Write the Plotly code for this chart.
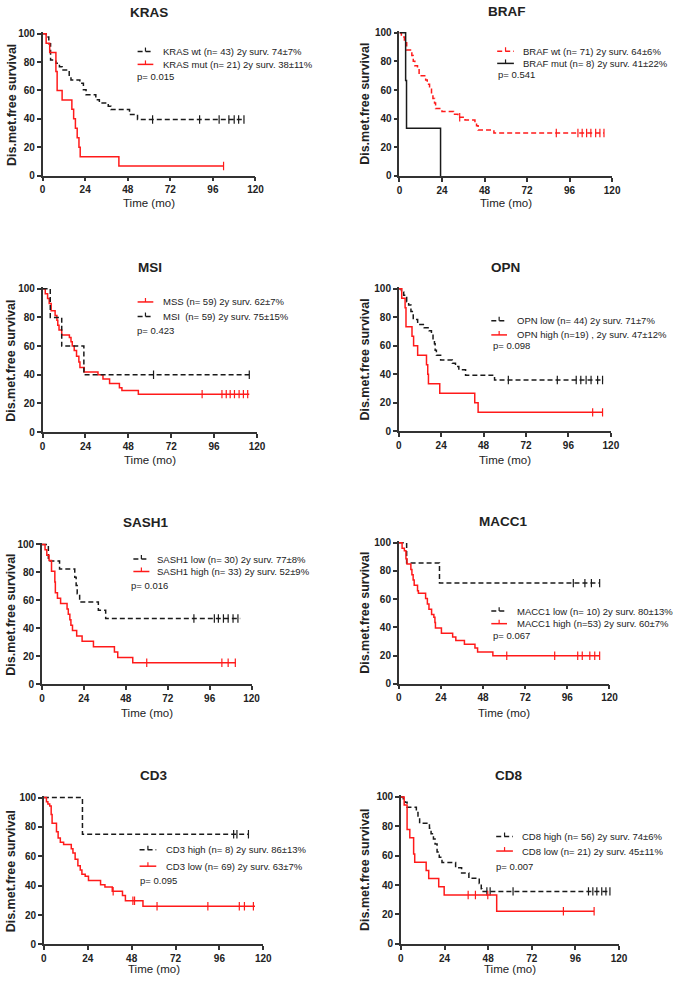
import numpy as np
import plotly.graph_objects as go

# ---------------- DATA ----------------
# Kaplan-Meier steps: time of event (months) and survival (%) after that event;
# the last pair is the end of follow-up. *_c = censored times (ticks).
kras_wt_t = [0, 2, 3.5, 4.5, 7.5, 9.5, 11, 15, 16, 21, 23, 24.5, 30, 32, 37, 38.5, 49, 53.5, 114]
kras_wt_s = [100, 97.7, 93.0, 81.4, 79.1, 76.7, 74.4, 69.8, 67.4, 65.1, 60.5, 57.0, 53.5, 51.2, 48.8, 46.5, 43.0, 39.5, 39.5]
kras_wt_c = [62, 88.5, 99.5, 105, 108, 110.5, 113.5]
kras_mut_t = [0, 2, 4, 7.5, 8.2, 11, 16.5, 17.5, 18.5, 19.5, 20.5, 21.2, 43, 102]
kras_mut_s = [100, 93.3, 86.7, 73.3, 60, 53.3, 46.7, 40, 33.3, 26.7, 20, 13.3, 6.7, 6.7]
kras_mut_c = [102]

braf_wt_t = [0, 1.1, 2.8, 4.1, 7, 7.8, 8.7, 10.2, 11.1, 14.8, 15.7, 17, 18.1, 18.9, 19.8, 20.4, 24, 30.5, 33, 37, 42.6, 43.5, 44.4, 53.3, 115.4]
braf_wt_s = [100, 97, 93, 88, 84, 80, 77, 75, 70, 67, 64, 61, 58, 54, 51, 47, 45, 43, 41, 39, 37, 35, 32, 30, 30]
braf_wt_c = [34, 88.5, 100.7, 103.1, 105.6, 108, 110.7, 113.1, 115.4]
braf_mut_t = [0, 3.5, 4.0, 23.2]
braf_mut_s = [100, 66.7, 33.3, 0]
braf_mut_c = []

mss_t = [0, 1.5, 2.8, 3.7, 4.8, 7, 8, 8.5, 9.2, 10.7, 15, 15.9, 16.6, 17.7, 19, 20.3, 20.9, 23.3, 31, 33.8, 37.5, 43, 44.4, 53.6, 115.7]
mss_s = [100, 96.6, 93.2, 89.8, 84.7, 81.4, 78, 74.6, 71.2, 67.8, 66, 63, 60, 57, 53, 49, 45, 42, 40, 37, 34, 31, 29, 26.5, 26.5]
mss_c = [89.3, 100.4, 102.8, 105, 107.4, 110, 112.4, 114.8]
msi_t = [0, 4.3, 10.7, 23.1, 115.7]
msi_s = [100, 80, 60, 40, 40]
msi_c = [62.1, 115.7]

opn_low_t = [0, 1.5, 2.8, 4.5, 5.6, 6.9, 8.2, 10.7, 14.4, 17.2, 18.5, 19.4, 20.2, 20.6, 21.3, 23.7, 30.3, 32.1, 34, 37.8, 54.2, 115.9]
opn_low_s = [100, 97.7, 95.5, 90.9, 88.6, 84.1, 78.4, 75, 72.7, 70.5, 68.2, 63.6, 61.4, 56.8, 53.4, 50, 47.7, 45.5, 43.2, 39.4, 36, 36]
opn_low_c = [62, 89.7, 100.4, 103, 106, 108.8, 112.5, 115.3]
opn_high_t = [0, 1.7, 3.6, 4.1, 7.5, 8.4, 10.7, 15.7, 16.4, 16.8, 23.2, 43, 44.9, 115.3]
opn_high_s = [100, 93.3, 86.7, 73.3, 66.7, 60, 53.3, 46.7, 40, 33.3, 26.7, 20, 13.3, 13.3]
opn_high_c = [109.7, 115.3]

sash_low_t = [0, 3.7, 10.1, 18.8, 19.6, 20.2, 21.6, 32.3, 36.5, 113.5]
sash_low_s = [100, 88.2, 82.4, 76.5, 70.6, 64.7, 58.8, 52.9, 47.0, 47.0]
sash_low_c = [87, 98.7, 101, 103.9, 106.6, 109.4, 112.2]
sash_high_t = [0, 1.8, 2.8, 4.1, 5.5, 7.4, 7.7, 8.9, 10.7, 14.4, 15.1, 16, 16.6, 17.5, 19.9, 23, 29.5, 41.5, 43.4, 52, 111]
sash_high_s = [100, 96.2, 92.3, 88.5, 80.8, 73.1, 65.4, 61.5, 57.7, 53.8, 50, 46.2, 42.3, 38.5, 34.6, 30.8, 26.9, 23.1, 19.2, 15.4, 15.4]
sash_high_c = [60, 103, 106.6, 110.7]

macc_low_t = [0, 4.5, 23.2, 114.4]
macc_low_s = [100, 85.7, 71.4, 71.4]
macc_low_c = [99.4, 106, 109.7, 114.4]
macc_high_t = [0, 1.9, 3.2, 4.1, 4.7, 6.9, 7.5, 8.2, 8.8, 10.7, 11.2, 15.3, 16.3, 17.2, 18.7, 20, 20.6, 20.9, 24.3, 30.7, 32.5, 37.4, 43.4, 44.9, 53.6, 114.4]
macc_high_s = [100, 96.2, 94.3, 88.7, 84.9, 81.1, 77.4, 73.6, 69.8, 66, 64.2, 60.4, 56.6, 52.8, 49.1, 47.2, 43.4, 39.6, 35.8, 33.2, 30.6, 28, 25.3, 22.6, 19.9, 19.9]
macc_high_c = [61.5, 88.8, 101.9, 104.5, 108.8, 111.6, 114.4]

cd3_high_t = [0, 21.1, 111.9]
cd3_high_s = [100, 75, 75]
cd3_high_c = [103.8, 105.6, 111.9]
cd3_low_t = [0, 1.4, 2.2, 3.2, 4, 4.5, 6.9, 7.8, 9, 10.8, 15, 15.9, 17.1, 18.6, 19.9, 20.8, 22.6, 24.4, 31, 33.4, 37.4, 43, 44.6, 54.2, 115.5]
cd3_low_s = [100, 97.1, 95.7, 94.2, 88.4, 82.6, 76.8, 72.5, 69.6, 68.1, 65.2, 62.3, 58, 53.6, 50.7, 47.8, 46.4, 43.5, 40.6, 39.1, 36.2, 33.3, 29.7, 26, 26]
cd3_low_c = [37.9, 48.7, 49.6, 61.9, 89.7, 106.9, 109.7, 114.6]

cd8_high_t = [0, 1.3, 2.2, 3.4, 8.5, 9.4, 10.3, 15.7, 16.6, 17.9, 18.8, 19.9, 21.1, 22.6, 30.1, 33.4, 37.4, 43.1, 44.2, 44.6, 115]
cd8_high_s = [100, 98.2, 96.4, 92.9, 89.3, 85.7, 82.1, 78.6, 75, 71.4, 67.9, 62.5, 58.9, 55.4, 51.8, 48.2, 44.6, 41.1, 37.5, 35.7, 35.7]
cd8_high_c = [47.3, 49.1, 61.7, 103.2, 105.6, 107.8, 110.5, 112.8, 115]
cd8_low_t = [0, 1.8, 3.4, 4.9, 7, 7.6, 13.9, 15.3, 20.8, 23.8, 52.7, 106.3]
cd8_low_s = [100, 94.4, 77.8, 72.2, 61.1, 55.6, 50, 44.4, 38.9, 33.3, 22.2, 22.2]
cd8_low_c = [37, 41, 47.8, 89.4, 106.3]

titles = ["KRAS", "BRAF", "MSI", "OPN", "SASH1", "MACC1", "CD3", "CD8"]
legend_texts = [
    ["KRAS wt (n= 43) 2y surv. 74±7%", "KRAS mut (n= 21) 2y surv. 38±11%"],
    ["BRAF wt (n= 71) 2y surv. 64±6%", "BRAF mut (n= 8) 2y surv. 41±22%"],
    ["MSS (n= 59) 2y surv. 62±7%", "MSI  (n= 59) 2y surv. 75±15%"],
    ["OPN low (n= 44) 2y surv. 71±7%", "OPN high (n=19) , 2y surv. 47±12%"],
    ["SASH1 low (n= 30) 2y surv. 77±8%", "SASH1 high (n= 33) 2y surv. 52±9%"],
    ["MACC1 low (n= 10) 2y surv. 80±13%", "MACC1 high (n=53) 2y surv. 60±7%"],
    ["CD3 high (n= 8) 2y surv. 86±13%", "CD3 low (n= 69) 2y surv. 63±7%"],
    ["CD8 high (n= 56) 2y surv. 74±6%", "CD8 low (n= 21) 2y surv. 45±11%"],
]
p_values = ["p= 0.015", "p= 0.541", "p= 0.423", "p= 0.098", "p= 0.016", "p= 0.067", "p= 0.095", "p= 0.007"]
x_ticks = [0, 24, 48, 72, 96, 120]
y_ticks = [0, 20, 40, 60, 80, 100]

# ---------------- STYLE / LAYOUT ----------------
W, H = 685, 988
FONT = "Liberation Sans, Arial, sans-serif"
RED = "#ff1a1a"
BLK = "#1a1a1a"
AX = "#333333"
TXT = "#222222"
DASH = "5px,3px"

RS = dict(color=RED, dash="solid")   # red solid
RD = dict(color=RED, dash=DASH)      # red dashed
KS = dict(color=BLK, dash="solid")   # black solid
KD = dict(color=BLK, dash=DASH)      # black dashed

panels = [
    dict(series=[(kras_wt_t, kras_wt_s, kras_wt_c, KD), (kras_mut_t, kras_mut_s, kras_mut_c, RS)],
         box=(40.3, 257.0, 30.0, 173.3), title=(149, 9), leg=(137, 153, 48, 61, 162, 135, 73), ylab=8.5, tlab=201),
    dict(series=[(braf_wt_t, braf_wt_s, braf_wt_c, RD), (braf_mut_t, braf_mut_s, braf_mut_c, KS)],
         box=(403.5, 620.0, 29.0, 173.7), title=(513, 8), leg=(503, 520, 47.7, 60, 528, 502.7, 71), ylab=369, tlab=201),
    dict(series=[(mss_t, mss_s, mss_c, RS), (msi_t, msi_s, msi_c, KD)],
         box=(40.3, 258.5, 287.7, 432.5), title=(150, 266), leg=(137, 153, 301, 315.7, 161.7, 135, 330), ylab=8.5, tlab=461),
    dict(series=[(opn_low_t, opn_low_s, opn_low_c, KD), (opn_high_t, opn_high_s, opn_high_c, RS)],
         box=(402.8, 618.7, 287.7, 431.7), title=(511, 266), leg=(497, 513, 320, 334.3, 521.7, 497.7, 345), ylab=369, tlab=461),
    dict(series=[(sash_low_t, sash_low_s, sash_low_c, KD), (sash_high_t, sash_high_s, sash_high_c, RS)],
         box=(39.6, 253.0, 546.0, 687.2), title=(146, 524), leg=(132.7, 149, 560.7, 573.3, 156, 129.3, 587.7), ylab=8.5, tlab=716),
    dict(series=[(macc_low_t, macc_low_s, macc_low_c, KD), (macc_high_t, macc_high_s, macc_high_c, RS)],
         box=(402.8, 617.3, 544.3, 686.7), title=(509, 523), leg=(497, 513, 613.3, 626, 521.7, 497.3, 638.3), ylab=369, tlab=716),
    dict(series=[(cd3_high_t, cd3_high_s, cd3_high_c, KD), (cd3_low_t, cd3_low_s, cd3_low_c, RS)],
         box=(41.6, 264.9, 801.7, 950.0), title=(153, 779), leg=(139, 156, 854.3, 871, 165, 138.3, 885.7), ylab=8.5, tlab=975),
    dict(series=[(cd8_high_t, cd8_high_s, cd8_high_c, KD), (cd8_low_t, cd8_low_s, cd8_low_c, RS)],
         box=(405.0, 627.0, 801.0, 949.5), title=(515, 779), leg=(502, 519, 841, 855.7, 527.3, 501, 871), ylab=369, tlab=975),
]


def px(x):
    return x / W


def py(y):
    return 1 - y / H


def step_value(t, s, c):
    t = np.asarray(t, float)
    s = np.asarray(s, float)
    idx = np.searchsorted(t, np.asarray(c, float), side="right") - 1
    return s[np.clip(idx, 0, len(s) - 1)]


fig = go.Figure()
layout = dict(width=W, height=H, margin=dict(l=0, r=0, t=0, b=0),
              paper_bgcolor="white", plot_bgcolor="white", showlegend=False,
              font=dict(family=FONT, color=TXT))
annotations = []
shapes = []

for i, p in enumerate(panels):
    k = "" if i == 0 else str(i + 1)
    x0, x1, y100, y0 = p["box"]
    top = y100 - (y0 - y100) / 100.0
    axis_common = dict(ticks="outside", ticklen=4, tickwidth=1.5, tickcolor=AX,
                       showline=True, linewidth=1.5, linecolor=AX, showgrid=False,
                       zeroline=False, fixedrange=True,
                       tickfont=dict(family=FONT, size=10, color=TXT, weight="bold"))
    layout["xaxis" + k] = dict(domain=[px(x0), px(x1)], range=[0, 120], anchor="y" + k,
                               tickvals=x_ticks, ticktext=[str(v) for v in x_ticks], **axis_common)
    layout["yaxis" + k] = dict(domain=[py(y0), py(top)], range=[0, 101], anchor="x" + k,
                               tickvals=y_ticks, ticktext=[str(v) for v in y_ticks], **axis_common)

    for (t, s, c, st) in p["series"]:
        fig.add_trace(go.Scatter(x=t, y=s, mode="lines", xaxis="x" + k, yaxis="y" + k,
                                 line=dict(shape="hv", width=1.5, color=st["color"], dash=st["dash"]),
                                 hoverinfo="skip"))
        if len(c):
            fig.add_trace(go.Scatter(x=c, y=step_value(t, s, c), mode="markers",
                                     xaxis="x" + k, yaxis="y" + k,
                                     marker=dict(symbol="line-ns-open", size=6, color=st["color"],
                                                 line=dict(width=1.2, color=st["color"])),
                                     hoverinfo="skip"))

    # title
    tx, ty = p["title"]
    annotations.append(dict(x=px(tx), y=py(ty), xref="paper", yref="paper", text="<b>%s</b>" % titles[i],
                            showarrow=False, xanchor="center", yanchor="middle", borderpad=0,
                            font=dict(family=FONT, size=13.5, color=TXT)))
    # y axis title
    annotations.append(dict(x=px(p["ylab"]), y=py((y100 + y0) / 2), xref="paper", yref="paper",
                            text="<b>Dis.met.free survival</b>", textangle=-90, showarrow=False,
                            xanchor="center", yanchor="middle", borderpad=0,
                            font=dict(family=FONT, size=12.5, color=TXT)))
    # x axis title
    annotations.append(dict(x=px((x0 + x1) / 2), y=py(p["tlab"]), xref="paper", yref="paper",
                            text="Time (mo)", showarrow=False, xanchor="center", yanchor="middle",
                            borderpad=0, font=dict(family=FONT, size=11.5, color=TXT)))
    # legend
    sx0, sx1, ry1, ry2, txx, ppx, ppy = p["leg"]
    for (t, s, c, st), label, ry in zip(p["series"], legend_texts[i], (ry1, ry2)):
        shapes.append(dict(type="line", xref="paper", yref="paper", x0=px(sx0), x1=px(sx1),
                           y0=py(ry), y1=py(ry), line=dict(color=st["color"], width=1.5, dash=st["dash"])))
        mid = (sx0 + sx1) / 2
        shapes.append(dict(type="line", xref="paper", yref="paper", x0=px(mid), x1=px(mid),
                           y0=py(ry), y1=py(ry - 4), line=dict(color=st["color"], width=1.2)))
        annotations.append(dict(x=px(txx), y=py(ry), xref="paper", yref="paper", text=label,
                                showarrow=False, xanchor="left", yanchor="middle", borderpad=0,
                                font=dict(family=FONT, size=9.5, color=TXT)))
    annotations.append(dict(x=px(ppx), y=py(ppy), xref="paper", yref="paper", text=p_values[i],
                            showarrow=False, xanchor="left", yanchor="middle", borderpad=0,
                            font=dict(family=FONT, size=9.5, color=TXT)))

layout["annotations"] = annotations
layout["shapes"] = shapes
fig.update_layout(**layout)

page_fix = (
    "var s=document.createElement('style');"
    "s.textContent='html,body{margin:0!important;padding:0!important;overflow:hidden!important;"
    "height:988px!important;width:685px!important;}';"
    "document.head.appendChild(s);"
)
fig.write_html("out.html", config={"displayModeBar": False}, post_script=page_fix)
